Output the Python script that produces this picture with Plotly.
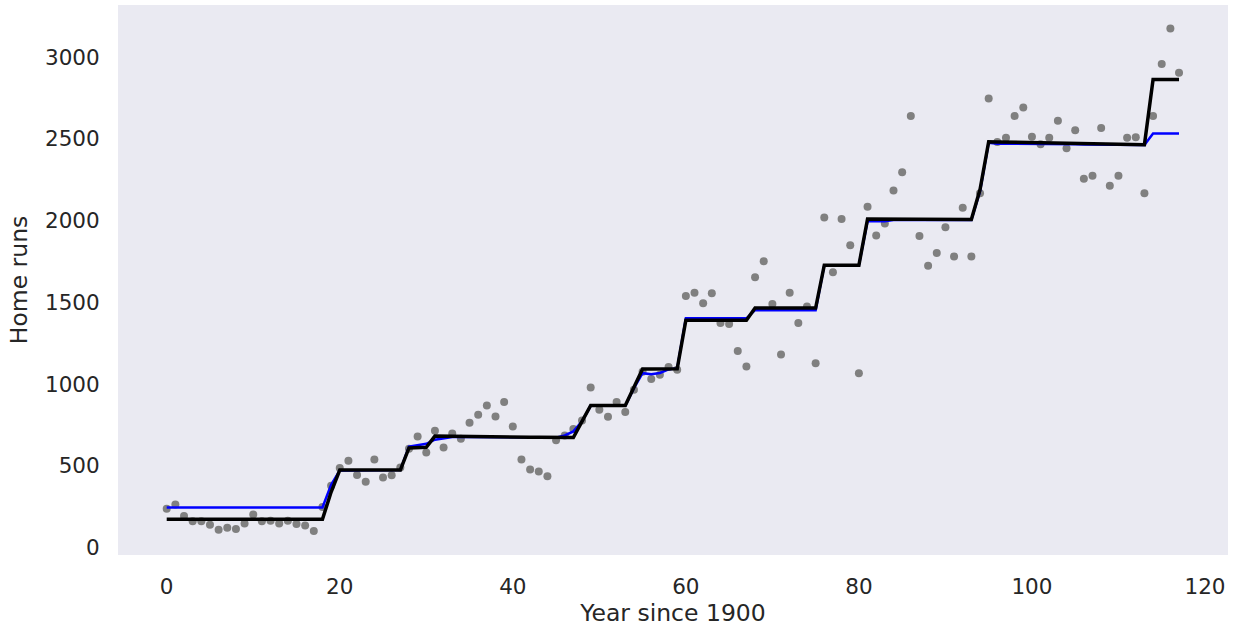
import plotly.graph_objects as go

years = list(range(118))

home_runs = [
    238, 264, 194, 161, 161, 140, 110, 122, 114, 148,
    203, 161, 165, 148, 165, 145, 136, 102, 249, 379,
    487, 531, 444, 403, 539, 429, 442, 490, 605, 680,
    582, 715, 613, 698, 666, 764, 812, 869, 802, 890,
    741, 539, 478, 466, 436, 656, 686, 725, 778, 979,
    843, 800, 890, 829, 965, 1075, 1031, 1057, 1104, 1087,
    1539, 1558, 1495, 1556, 1373, 1368, 1202, 1108, 1654, 1751,
    1489, 1181, 1558, 1373, 1474, 1128, 2018, 1684, 2010, 1849,
    1067, 2085, 1908, 1982, 2183, 2295, 2639, 1906, 1723, 1802,
    1959, 1780, 2079, 1780, 2167, 2747, 2480, 2507, 2639, 2692,
    2513, 2466, 2507, 2610, 2442, 2552, 2256, 2274, 2566, 2213,
    2274, 2507, 2509, 2167, 2639, 2957, 3175, 2904,
]

fit_blue = [
    246, 246, 246, 246, 246, 246, 246, 246, 246, 246,
    246, 246, 246, 246, 246, 246, 246, 246, 246, 385,
    472, 472, 472, 472, 472, 472, 472, 474, 618, 628,
    635, 660, 670, 676, 677, 677, 676, 676, 675, 675,
    674, 674, 673, 673, 672, 672, 686, 711, 772, 867,
    867, 867, 867, 867, 975, 1067, 1060, 1068, 1090, 1096,
    1402, 1402, 1402, 1402, 1402, 1402, 1402, 1402, 1452, 1452,
    1452, 1452, 1452, 1452, 1452, 1452, 1727, 1727, 1727, 1727,
    1727, 1995, 1995, 1995, 2003, 2003, 2003, 2003, 2003, 2003,
    2003, 2003, 2003, 2003, 2180, 2475, 2470, 2470, 2469, 2469,
    2468, 2468, 2467, 2467, 2466, 2466, 2465, 2465, 2464, 2464,
    2463, 2463, 2462, 2462, 2533, 2533, 2533, 2533,
]

fit_black = [
    173, 173, 173, 173, 173, 173, 173, 173, 173, 173,
    173, 173, 173, 173, 173, 173, 173, 173, 173, 340,
    474, 474, 474, 474, 474, 474, 474, 474, 610, 613,
    614, 682, 681, 680, 680, 679, 679, 678, 678, 677,
    677, 676, 675, 675, 674, 674, 673, 673, 772, 869,
    869, 869, 869, 869, 980, 1093, 1093, 1093, 1094, 1094,
    1390, 1390, 1390, 1390, 1390, 1390, 1390, 1390, 1465, 1465,
    1465, 1465, 1465, 1465, 1465, 1465, 1727, 1727, 1727, 1727,
    1727, 2010, 2010, 2009, 2009, 2009, 2008, 2008, 2008, 2007,
    2007, 2007, 2006, 2006, 2190, 2482, 2481, 2480, 2479, 2478,
    2477, 2476, 2475, 2474, 2473, 2472, 2471, 2470, 2469, 2468,
    2467, 2466, 2465, 2463, 2863, 2863, 2863, 2863,
]

x_ticks = [0, 20, 40, 60, 80, 100, 120]
y_ticks = [0, 500, 1000, 1500, 2000, 2500, 3000]

fig = go.Figure()
fig.add_trace(go.Scatter(
    x=years, y=home_runs, mode="markers",
    marker=dict(color="#808080", size=8, line=dict(width=0)),
    showlegend=False, hoverinfo="x+y",
))
fig.add_trace(go.Scatter(
    x=years, y=fit_blue, mode="lines",
    line=dict(color="#0000ff", width=2.5),
    showlegend=False,
))
fig.add_trace(go.Scatter(
    x=years, y=fit_black, mode="lines",
    line=dict(color="#000000", width=3.5),
    showlegend=False,
))

font_color = "#262626"
fig.update_layout(
    width=1237, height=631,
    margin=dict(l=118, r=9, t=5, b=76),
    paper_bgcolor="white",
    plot_bgcolor="#EAEAF2",
    font=dict(family="DejaVu Sans", color=font_color, size=21),
    xaxis=dict(
        range=[-5.63, 122.66],
        tickvals=x_ticks, ticktext=[str(v) for v in x_ticks],
        showgrid=False, zeroline=False, showline=False,
        ticks="outside", ticklen=12, tickcolor="rgba(0,0,0,0)",
        tickfont=dict(size=21.5, color=font_color),
        title=dict(text="Year since 1900", font=dict(size=23.5, color=font_color), standoff=6),
    ),
    yaxis=dict(
        range=[-45, 3318],
        tickvals=y_ticks, ticktext=[str(v) for v in y_ticks],
        showgrid=False, zeroline=False, showline=False,
        ticks="outside", ticklen=13, tickcolor="rgba(0,0,0,0)",
        tickfont=dict(size=21.5, color=font_color),
        title=dict(text="Home runs", font=dict(size=23.5, color=font_color), standoff=10),
    ),
)

fig.write_html("out.html")
